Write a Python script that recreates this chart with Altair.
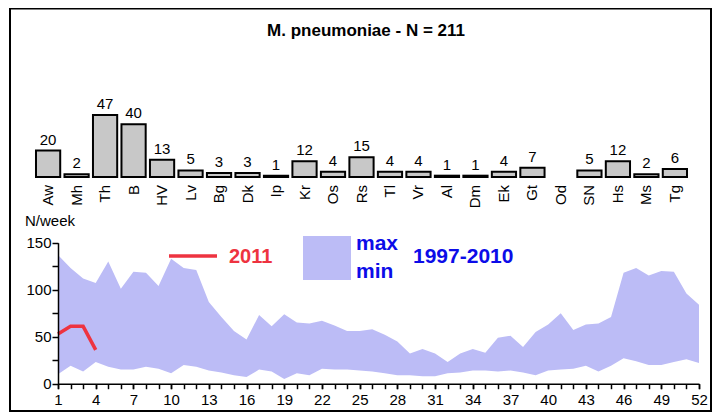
import altair as alt
import pandas as pd

# ---- data ----
regions = ["Aw", "Mh", "Th", "B", "HV", "Lv", "Bg", "Dk", "Ip", "Kr", "Os", "Rs",
           "Tl", "Vr", "Al", "Dm", "Ek", "Gt", "Od", "SN", "Hs", "Ms", "Tg"]
region_counts = [20, 2, 47, 40, 13, 5, 3, 3, 1, 12, 4, 15,
                 4, 4, 1, 1, 4, 7, 0, 5, 12, 2, 6]

weeks = list(range(1, 53))
week_labels = list(range(1, 53, 3))
max_1997_2010 = [137, 123, 112, 107, 130, 101, 119, 118, 104, 133, 123, 121, 87,
                 71, 56, 47, 73, 61, 74, 65, 64, 67, 62, 56, 56, 58,
                 52, 45, 32, 37, 32, 23, 32, 37, 33, 49, 51, 39, 55,
                 63, 75, 57, 63, 64, 71, 118, 123, 115, 120, 119, 96, 84]
min_1997_2010 = [10, 19, 13, 23, 18, 15, 15, 18, 16, 11, 20, 18, 14,
                 12, 9, 7, 15, 13, 5, 11, 9, 16, 15, 15, 14, 13,
                 11, 9, 9, 8, 8, 11, 12, 14, 14, 13, 14, 12, 9,
                 14, 15, 16, 19, 13, 19, 27, 24, 20, 20, 23, 26, 22]
weeks_2011 = [1, 2, 3, 4]
cases_2011 = [53, 61, 61, 36]

title_text = "M. pneumoniae - N = 211"

# ---- tables ----
df_bar = pd.DataFrame({"cat": regions, "n": region_counts})
df_band = pd.DataFrame({"week": weeks, "max": max_1997_2010, "min": min_1997_2010})
df_2011 = pd.DataFrame({"week": weeks_2011, "n": cases_2011})
one = pd.DataFrame({"k": [0]})

FONT = "Liberation Sans"
RED = "#ee3340"
BLUE = "#0c0ce8"
BAND = "#bcbcf6"
H = 404
X_AXIS_Y = 375.7

# ---- frame & title ----
frame = alt.Chart(one).mark_rect(fill="transparent", stroke="black", strokeWidth=2).encode(
    x=alt.value(2), x2=alt.value(703), y=alt.value(0.5), y2=alt.value(403)
)
title = alt.Chart(pd.DataFrame({"t": [title_text]})).mark_text(
    font="Liberation Sans Narrow, Liberation Sans", fontSize=17, fontWeight="bold",
    align="center", baseline="alphabetic", color="black"
).encode(x=alt.value(358), y=alt.value(28), text="t:N")

# ---- top bar chart ----
xb_scale = alt.Scale(domain=regions, range=[26, 681], paddingInner=0.15, paddingOuter=0.07)
yb_scale = alt.Scale(domain=[0, 47], range=[169, 107])
xb = alt.X("cat:N", sort=regions, scale=xb_scale, axis=None)
yb = alt.Y("n:Q", scale=yb_scale, axis=None)

bar_base = alt.Chart(df_bar)
bars = bar_base.transform_filter("datum.n > 0").mark_bar(
    fill="#c8c8c8", stroke="black", strokeWidth=2
).encode(x=xb, y=yb)
bar_vals = bar_base.transform_filter("datum.n > 0").mark_text(
    font=FONT, fontSize=15, baseline="bottom", dy=-3, color="black"
).encode(x=xb, y=yb, text="n:Q")
bar_cats = bar_base.mark_text(
    font=FONT, fontSize=15, angle=270, align="right", baseline="middle", color="black"
).encode(x=xb, y=alt.value(177), text="cat:N")
bar_group = alt.layer(bars, bar_vals, bar_cats)

# ---- bottom weekly chart ----
xa_scale = alt.Scale(domain=[1, 52], range=[50, 691], nice=False, zero=False)
ya_scale = alt.Scale(domain=[0, 150], range=[X_AXIS_Y, 234.7], nice=False)
x_axis_labels = alt.Axis(
    values=week_labels, format="d",
    offset=X_AXIS_Y - H, orient="bottom", grid=False, title=None, domainColor="black",
    tickColor="black", tickSize=5, domainWidth=1.5, tickWidth=1.5,
    labelFont=FONT, labelFontSize=15, labelColor="black", labelPadding=4,
    labelFlush=False, labelOverlap=False, labelBound=False, zindex=2
)
x_axis_ticks = alt.Axis(
    values=weeks, labels=False, domain=False,
    offset=X_AXIS_Y - H, orient="bottom", grid=False, title=None,
    tickColor="black", tickSize=5, tickWidth=1.5, zindex=2
)
y_axis = alt.Axis(
    values=[0, 25, 50, 75, 100, 125, 150],
    labelExpr="datum.value % 50 == 0 ? datum.label : ''",
    offset=-50, orient="left", grid=False, title=None, domainColor="black",
    tickColor="black", tickSize=6, domainWidth=1.5, tickWidth=1.5,
    labelFont=FONT, labelFontSize=15, labelColor="black", labelPadding=1,
    labelOverlap=False, zindex=2
)
band = alt.Chart(df_band).mark_area(color=BAND, opacity=1).encode(
    x=alt.X("week:Q", scale=xa_scale, axis=x_axis_labels),
    y=alt.Y("max:Q", scale=ya_scale, axis=y_axis),
    y2="min:Q",
)
line2011 = alt.Chart(df_2011).mark_line(color=RED, strokeWidth=3.5).encode(
    x=alt.X("week:Q", scale=xa_scale, axis=x_axis_ticks),
    y=alt.Y("n:Q", scale=ya_scale, axis=y_axis),
)
area_group = alt.layer(band, line2011).resolve_axis(x="independent")

# ---- annotations / legend ----
nweek = alt.Chart(pd.DataFrame({"t": ["N/week"]})).mark_text(
    font=FONT, fontSize=15, align="left", baseline="alphabetic", color="black"
).encode(x=alt.value(17), y=alt.value(218), text="t:N")
leg_line = alt.Chart(one).mark_rule(color=RED, strokeWidth=3.5).encode(
    x=alt.value(161), x2=alt.value(209), y=alt.value(248)
)
leg_2011 = alt.Chart(pd.DataFrame({"t": ["2011"]})).mark_text(
    font=FONT, fontSize=20, fontWeight="bold", align="left", baseline="alphabetic", color=RED
).encode(x=alt.value(221), y=alt.value(255), text="t:N")
leg_rect = alt.Chart(one).mark_rect(color=BAND).encode(
    x=alt.value(295), x2=alt.value(343), y=alt.value(228), y2=alt.value(272)
)
leg_max = alt.Chart(pd.DataFrame({"t": ["max"]})).mark_text(
    font=FONT, fontSize=21, fontWeight="bold", align="left", baseline="alphabetic", color=BLUE
).encode(x=alt.value(348), y=alt.value(242), text="t:N")
leg_min = alt.Chart(pd.DataFrame({"t": ["min"]})).mark_text(
    font=FONT, fontSize=21, fontWeight="bold", align="left", baseline="alphabetic", color=BLUE
).encode(x=alt.value(348), y=alt.value(270), text="t:N")
leg_years = alt.Chart(pd.DataFrame({"t": ["1997-2010"]})).mark_text(
    font=FONT, fontSize=21, fontWeight="bold", align="left", baseline="alphabetic", color=BLUE
).encode(x=alt.value(405), y=alt.value(255), text="t:N")

chart = alt.layer(
    frame, title, bar_group, area_group,
    nweek, leg_line, leg_2011, leg_rect, leg_max, leg_min, leg_years
).resolve_scale(
    x="independent", y="independent"
).properties(
    width=704, height=H,
    autosize=alt.AutoSizeParams(type="none"),
    padding=0,
    background="white",
).configure_view(stroke=None)

chart.save("out.html", embed_options={"renderer": "svg", "actions": False})
